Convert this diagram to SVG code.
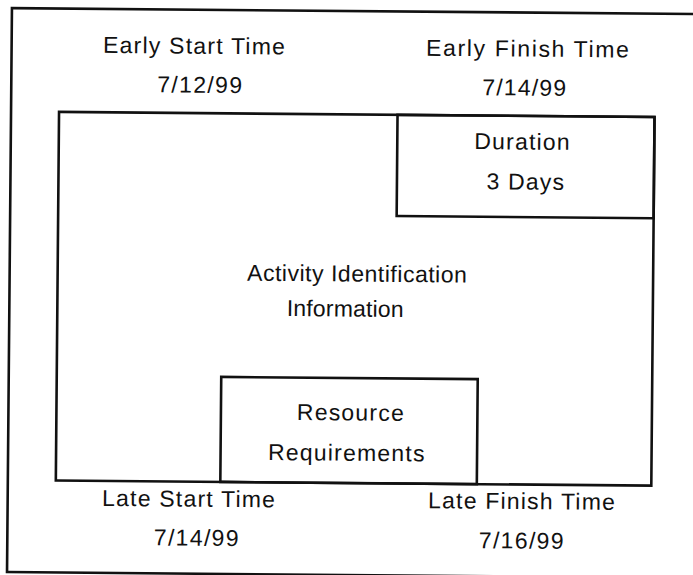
<svg xmlns="http://www.w3.org/2000/svg" width="693" height="575" viewBox="0 0 693 575">
  <style>
    .box { fill: none; stroke: #111; stroke-width: 2.6; }
    .lbl { font-family: "Liberation Sans", Arial, sans-serif; font-size: 23px; fill: #111; letter-spacing: 1.2px; }
    .mid { text-anchor: middle; }
  </style>
  <rect width="693" height="575" fill="#fff"/>
  <!-- whole sheet sits slightly skewed on the page -->
  <g transform="rotate(0.5 346 290)">
    <g id="frame">
      <rect class="box" x="9.5" y="11" width="692" height="564"/>
    </g>
    <g id="activity">
      <rect class="box" x="57.5" y="114.4" width="595.5" height="368.6"/>
      <text class="lbl" x="247" y="281.5" textLength="221" lengthAdjust="spacing">Activity Identification</text>
      <text class="lbl" x="287" y="316.5" textLength="118" lengthAdjust="spacing">Information</text>
    </g>
    <g id="duration">
      <rect class="box" x="396" y="114.4" width="257" height="101.2"/>
      <text class="lbl" x="473" y="148">Duration</text>
      <text class="lbl mid" x="525" y="188">3 Days</text>
    </g>
    <g id="resource">
      <rect class="box" x="222" y="378" width="256.5" height="105"/>
      <text class="lbl" x="298" y="420.4">Resource</text>
      <text class="lbl" x="269.5" y="460.7">Requirements</text>
    </g>
    <g id="early-start">
      <text class="lbl" x="101" y="55" textLength="183" lengthAdjust="spacing">Early Start Time</text>
      <text class="lbl" x="155.5" y="94" textLength="86" lengthAdjust="spacing">7/12/99</text>
    </g>
    <g id="early-finish">
      <text class="lbl" x="424" y="55" textLength="204" lengthAdjust="spacing">Early Finish Time</text>
      <text class="lbl" x="480.5" y="94" textLength="85" lengthAdjust="spacing">7/14/99</text>
    </g>
    <g id="late-start">
      <text class="lbl" x="104" y="508">Late Start Time</text>
      <text class="lbl" x="156" y="547" textLength="86" lengthAdjust="spacing">7/14/99</text>
    </g>
    <g id="late-finish">
      <text class="lbl" x="430" y="507.5">Late Finish Time</text>
      <text class="lbl" x="481" y="547" textLength="86" lengthAdjust="spacing">7/16/99</text>
    </g>
    <g id="connectors"/>
  </g>
</svg>
